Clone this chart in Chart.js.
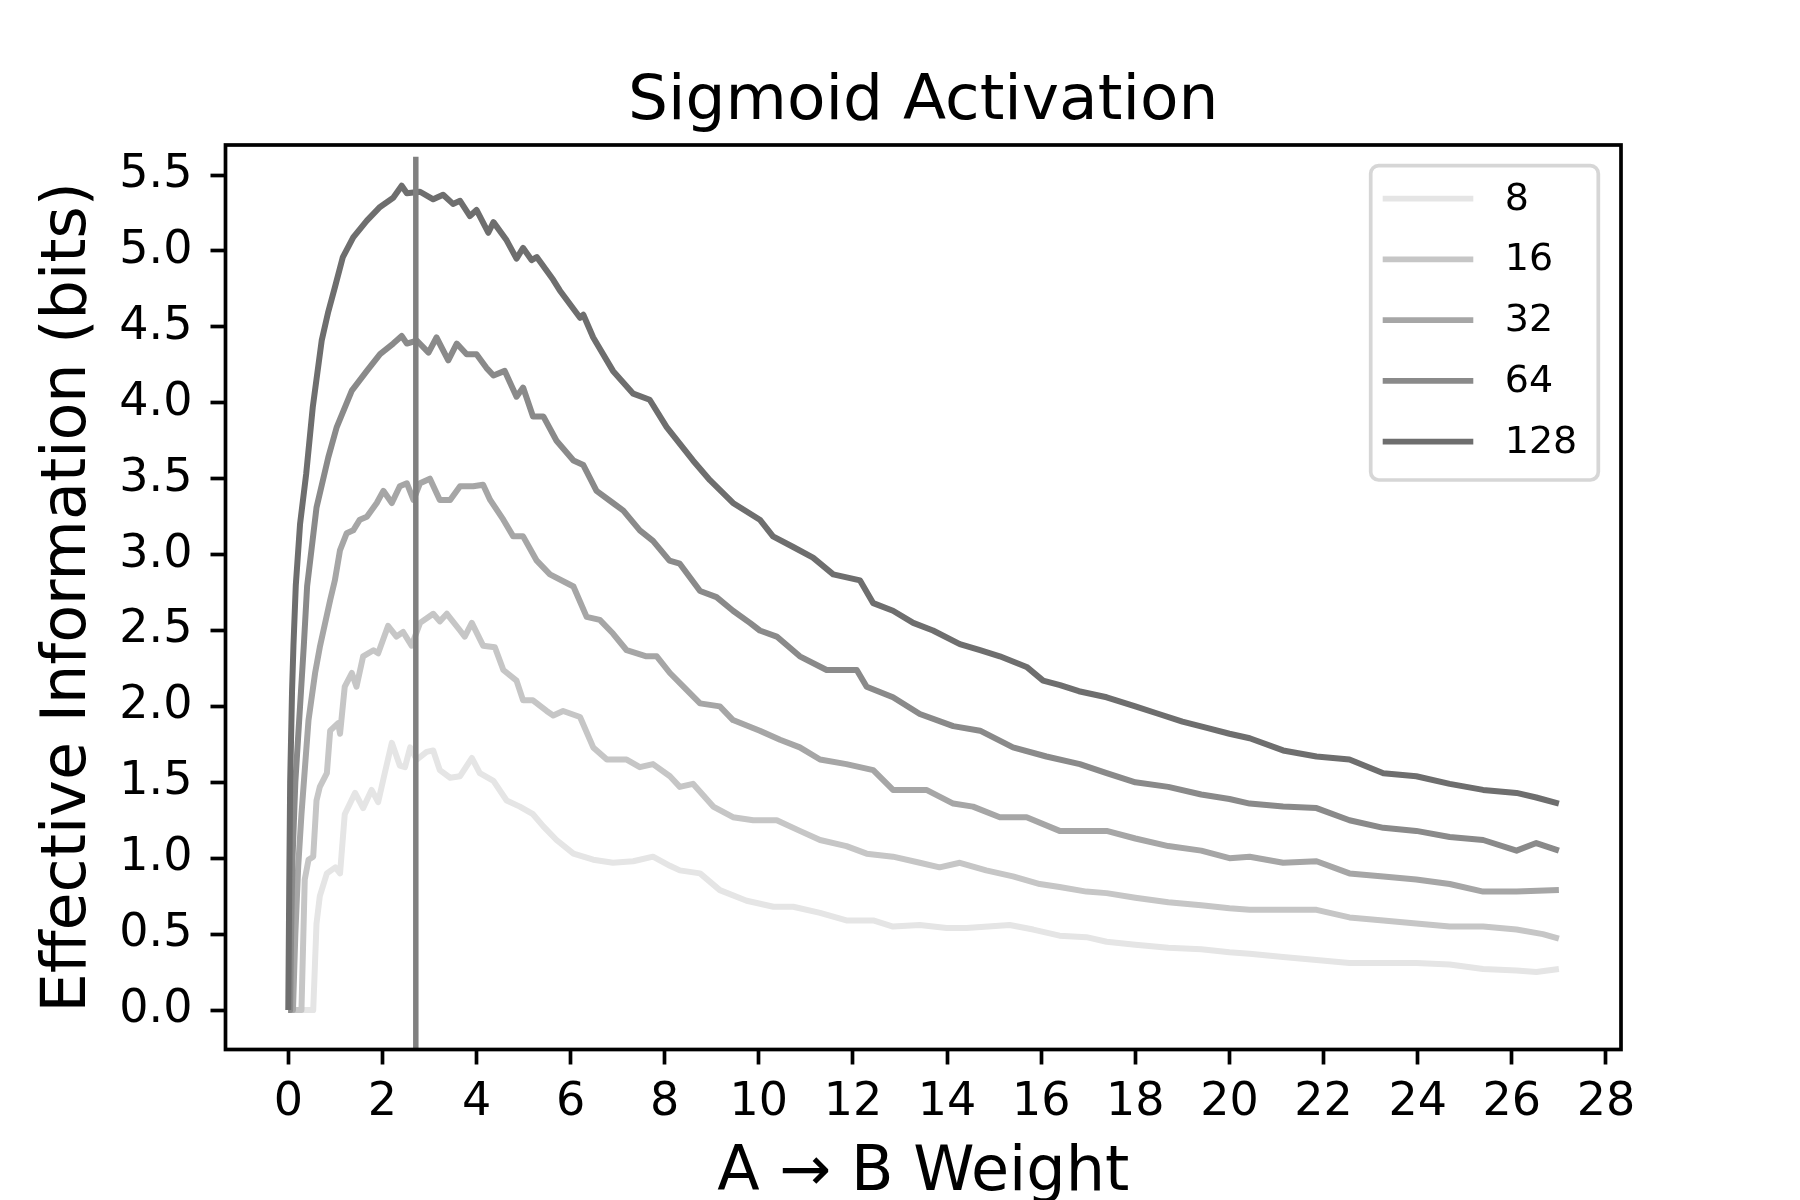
<!DOCTYPE html>
<html>
<head>
<meta charset="utf-8">
<script src="https://cdn.jsdelivr.net/npm/chart.js@4.4.1/dist/chart.umd.min.js"></script>
<style>
html,body{margin:0;padding:0;background:#fff;}
canvas{display:block;}
</style>
</head>
<body>
<canvas id="c" width="1800" height="1200"></canvas>
<script>
// ---- data ----
const seriesLabels = ['8', '16', '32', '64', '128'];
const seriesColors = ['#e5e5e5', '#c6c6c6', '#a6a6a6', '#8a8a8a', '#6e6e6e'];

const x8 = [0,0.53,0.6,0.67,0.82,1.0,1.1,1.2,1.42,1.59,1.77,1.91,2.05,2.2,2.37,2.48,2.59,2.73,2.94,3.08,3.22,3.44,3.65,3.9,4.07,4.36,4.64,4.92,5.2,5.42,5.7,6.06,6.48,6.9,7.33,7.75,8.11,8.32,8.75,9.17,9.74,10.31,10.73,11.3,11.86,12.43,12.85,13.42,13.99,14.41,15.33,15.83,16.39,16.96,17.39,18.0,18.7,19.4,20.0,20.43,21.14,21.85,22.55,23.27,23.97,24.68,25.39,26.1,26.52,27.0];
const y8 = [0,0,0.57,0.75,0.9,0.94,0.9,1.29,1.43,1.33,1.45,1.37,1.56,1.76,1.61,1.6,1.73,1.65,1.7,1.71,1.58,1.53,1.54,1.66,1.56,1.51,1.38,1.34,1.29,1.21,1.12,1.03,0.99,0.97,0.98,1.01,0.95,0.92,0.9,0.79,0.72,0.68,0.68,0.64,0.59,0.59,0.55,0.56,0.54,0.54,0.56,0.53,0.49,0.48,0.45,0.43,0.41,0.4,0.38,0.37,0.35,0.33,0.31,0.31,0.31,0.3,0.27,0.26,0.25,0.27];

const x16 = [0,0.28,0.35,0.43,0.53,0.6,0.67,0.82,0.89,1.06,1.1,1.2,1.35,1.45,1.59,1.81,1.91,2.12,2.3,2.44,2.62,2.8,3.08,3.22,3.37,3.65,3.75,3.9,4.14,4.39,4.57,4.85,4.99,5.2,5.49,5.63,5.84,6.2,6.48,6.77,7.19,7.47,7.75,8.11,8.32,8.6,9.03,9.45,9.88,10.38,10.87,11.3,11.86,12.29,12.85,13.42,13.84,14.27,14.83,15.4,15.97,16.39,16.96,17.39,18.0,18.7,19.4,20.0,20.43,21.14,21.85,22.55,23.27,23.97,24.68,25.39,26.1,26.66,27.0];
const y16 = [0,0,0.86,0.99,1.01,1.38,1.47,1.56,1.84,1.89,1.82,2.13,2.22,2.13,2.33,2.37,2.35,2.53,2.46,2.49,2.4,2.55,2.61,2.56,2.61,2.5,2.46,2.55,2.4,2.39,2.24,2.17,2.04,2.04,1.97,1.94,1.97,1.93,1.73,1.65,1.65,1.6,1.62,1.54,1.47,1.49,1.34,1.27,1.25,1.25,1.18,1.12,1.08,1.03,1.01,0.97,0.94,0.97,0.92,0.88,0.83,0.81,0.78,0.77,0.74,0.71,0.69,0.67,0.66,0.66,0.66,0.61,0.59,0.57,0.55,0.55,0.53,0.5,0.47];

const x32 = [0,0.1,0.15,0.21,0.28,0.43,0.57,0.67,0.89,0.99,1.1,1.24,1.38,1.52,1.67,1.88,2.02,2.2,2.37,2.52,2.66,2.8,3.01,3.22,3.44,3.65,3.93,4.14,4.29,4.57,4.78,4.99,5.28,5.56,6.06,6.34,6.62,6.9,7.19,7.61,7.83,8.11,8.46,8.75,9.17,9.45,10.02,10.45,10.87,11.3,11.86,12.43,12.85,13.56,14.13,14.55,15.12,15.69,16.39,17.39,18.0,18.7,19.4,20.0,20.43,21.14,21.85,22.55,23.27,23.97,24.68,25.39,26.1,27.0];
const y32 = [0,0,0.5,0.94,1.29,1.91,2.22,2.39,2.7,2.83,3.03,3.14,3.16,3.23,3.25,3.34,3.42,3.34,3.45,3.47,3.36,3.47,3.5,3.36,3.36,3.45,3.45,3.46,3.36,3.23,3.12,3.12,2.96,2.87,2.79,2.59,2.57,2.48,2.37,2.33,2.33,2.22,2.11,2.02,2.0,1.91,1.84,1.78,1.73,1.65,1.62,1.58,1.45,1.45,1.36,1.34,1.27,1.27,1.18,1.18,1.13,1.08,1.05,1.0,1.01,0.97,0.98,0.9,0.88,0.86,0.83,0.78,0.78,0.79];

const x64 = [0,0.04,0.06,0.09,0.15,0.25,0.33,0.4,0.6,0.85,1.03,1.35,1.67,1.95,2.23,2.41,2.52,2.73,2.98,3.15,3.4,3.58,3.79,4.0,4.21,4.36,4.6,4.85,4.99,5.2,5.42,5.7,6.06,6.27,6.55,6.9,7.12,7.47,7.75,8.1,8.32,8.75,9.1,9.45,9.81,10.02,10.38,10.87,11.44,12.08,12.29,12.85,13.42,14.13,14.7,15.4,16.11,16.82,17.39,18.0,18.7,19.4,20.0,20.43,21.14,21.85,22.55,23.27,23.97,24.68,25.39,26.1,26.52,27.0];
const y64 = [0,0,0.5,1.0,1.5,2.0,2.4,2.79,3.31,3.64,3.84,4.08,4.21,4.32,4.39,4.44,4.39,4.41,4.33,4.43,4.28,4.39,4.32,4.32,4.23,4.18,4.21,4.04,4.1,3.91,3.91,3.75,3.62,3.59,3.42,3.34,3.29,3.16,3.09,2.96,2.94,2.76,2.72,2.63,2.55,2.5,2.46,2.33,2.24,2.24,2.13,2.06,1.95,1.87,1.84,1.73,1.67,1.62,1.56,1.5,1.47,1.42,1.39,1.36,1.34,1.33,1.25,1.2,1.18,1.14,1.12,1.05,1.1,1.05];

const x128 = [0,0.02,0.04,0.08,0.11,0.16,0.25,0.38,0.52,0.71,0.85,0.99,1.16,1.38,1.67,1.95,2.23,2.41,2.52,2.8,3.08,3.29,3.5,3.65,3.86,4.0,4.25,4.36,4.64,4.85,4.99,5.17,5.28,5.63,5.77,6.2,6.27,6.48,6.9,7.33,7.68,8.04,8.6,8.96,9.45,10.02,10.3,10.73,11.15,11.58,12.15,12.43,12.85,13.28,13.7,14.27,14.7,15.12,15.69,16.04,16.4,16.8,17.39,18.0,18.5,19.0,19.5,20.0,20.43,21.14,21.85,22.55,23.27,23.97,24.68,25.39,26.1,26.52,27.0];
const y128 = [0,0.8,1.5,2.1,2.4,2.8,3.2,3.53,3.97,4.41,4.6,4.76,4.96,5.09,5.2,5.29,5.35,5.43,5.38,5.39,5.34,5.37,5.31,5.33,5.23,5.27,5.12,5.19,5.07,4.95,5.02,4.94,4.96,4.81,4.74,4.56,4.58,4.43,4.21,4.06,4.02,3.84,3.62,3.49,3.34,3.23,3.12,3.05,2.98,2.87,2.83,2.68,2.63,2.55,2.5,2.41,2.37,2.33,2.26,2.17,2.14,2.1,2.06,2.0,1.95,1.9,1.86,1.82,1.79,1.71,1.67,1.65,1.56,1.54,1.49,1.45,1.43,1.4,1.36];

const seriesX = [x8, x16, x32, x64, x128];
const seriesY = [y8, y16, y32, y64, y128];

const vlineX = [2.71, 2.71];
const vlineY = [-0.26, 5.62];

const xTicks = [0,2,4,6,8,10,12,14,16,18,20,22,24,26,28];
const yTicks = [0,0.5,1.0,1.5,2.0,2.5,3.0,3.5,4.0,4.5,5.0,5.5];

const titleText = 'Sigmoid Activation';
const xLabel = 'A \u2192 B Weight';
const yLabel = 'Effective Information (bits)';

// ---- build chart ----
const FONT = "'DejaVu Sans', 'Liberation Sans', sans-serif";
Chart.defaults.font.family = FONT;
Chart.defaults.color = '#000';

function pts(xs, ys) {
  const n = Math.min(xs.length, ys.length);
  const out = [];
  for (let i = 0; i < n; i++) out.push({x: xs[i], y: ys[i]});
  return out;
}

const datasets = seriesLabels.map((lab, i) => ({
  label: lab,
  data: pts(seriesX[i], seriesY[i]),
  borderColor: seriesColors[i],
  backgroundColor: seriesColors[i],
  borderWidth: 6,
  pointRadius: 0,
  tension: 0,
  fill: false,
  borderJoinStyle: 'round',
  order: seriesLabels.length - i
}));
datasets.push({
  label: 'vline',
  data: pts(vlineX, vlineY),
  borderColor: '#808080',
  borderWidth: 5.5,
  pointRadius: 0,
  fill: false,
  order: 0
});

const framePlugin = {
  id: 'frameAndLegend',
  afterDatasetsDraw(chart) {
    const {ctx, chartArea: a} = chart;
    ctx.save();
    // frame
    ctx.strokeStyle = '#000';
    ctx.lineWidth = 3.7;
    ctx.strokeRect(a.left, a.top, a.right - a.left, a.bottom - a.top);

    // legend box (inside top-right)
    const bx1 = a.right - 22.7, by0 = a.top + 20.7;
    const bx0 = bx1 - 227.6, by1 = by0 + 314.3;
    const r = 8;
    ctx.beginPath();
    ctx.moveTo(bx0 + r, by0);
    ctx.lineTo(bx1 - r, by0);
    ctx.arcTo(bx1, by0, bx1, by0 + r, r);
    ctx.lineTo(bx1, by1 - r);
    ctx.arcTo(bx1, by1, bx1 - r, by1, r);
    ctx.lineTo(bx0 + r, by1);
    ctx.arcTo(bx0, by1, bx0, by1 - r, r);
    ctx.lineTo(bx0, by0 + r);
    ctx.arcTo(bx0, by0, bx0 + r, by0, r);
    ctx.closePath();
    ctx.fillStyle = 'rgba(255,255,255,0.8)';
    ctx.fill();
    ctx.strokeStyle = 'rgba(204,204,204,0.8)';
    ctx.lineWidth = 3.7;
    ctx.stroke();

    ctx.font = '38px ' + FONT;
    ctx.textBaseline = 'middle';
    ctx.textAlign = 'left';
    for (let i = 0; i < seriesLabels.length; i++) {
      const yy = by0 + 33 + i * 60.75;
      ctx.strokeStyle = seriesColors[i];
      ctx.lineWidth = 5.7;
      ctx.beginPath();
      ctx.moveTo(bx0 + 12, yy);
      ctx.lineTo(bx0 + 102.6, yy);
      ctx.stroke();
      ctx.fillStyle = '#000';
      ctx.fillText(seriesLabels[i], bx0 + 134, yy + 1);
    }
    ctx.restore();
  }
};

new Chart(document.getElementById('c'), {
  type: 'line',
  data: { datasets },
  plugins: [framePlugin],
  options: {
    responsive: false,
    animation: false,
    devicePixelRatio: 1,
    layout: { padding: { left: 0, right: 179, top: 0, bottom: 0 } },
    plugins: {
      legend: { display: false },
      tooltip: { enabled: false },
      title: {
        display: true,
        fullSize: false,
        text: titleText,
        color: '#000',
        font: { size: 63, weight: 'normal', family: FONT, lineHeight: 1.2 },
        padding: { top: 64.5, bottom: 4.9 }
      }
    },
    scales: {
      x: {
        type: 'linear',
        min: -1.334,
        max: 28.32,
        afterBuildTicks: (s) => { s.ticks = xTicks.map(v => ({value: v})); },
        afterFit: (s) => { s.height = 150.5; },
        ticks: {
          autoSkip: false, maxRotation: 0, padding: 11,
          color: '#000',
          font: { size: 46, family: FONT, lineHeight: 1.2 },
          callback: (v) => String(v)
        },
        grid: { display: true, drawOnChartArea: false, drawTicks: true, tickLength: 15, tickWidth: 3.7, tickColor: '#000' },
        border: { display: false },
        title: {
          display: true, text: xLabel, color: '#000',
          font: { size: 62, family: FONT, lineHeight: 0.84 },
          padding: { top: 0, bottom: 0 }
        }
      },
      y: {
        type: 'linear',
        min: -0.26,
        max: 5.698,
        afterBuildTicks: (s) => { s.ticks = yTicks.map(v => ({value: v})); },
        afterFit: (s) => { s.width = 225.5; },
        ticks: {
          padding: 18,
          color: '#000',
          font: { size: 46, family: FONT, lineHeight: 1.2 },
          callback: (v) => Number(v).toFixed(1)
        },
        grid: { display: true, drawOnChartArea: false, drawTicks: true, tickLength: 15, tickWidth: 3.7, tickColor: '#000' },
        border: { display: false },
        title: {
          display: true, text: yLabel, color: '#000',
          font: { size: 62, family: FONT, lineHeight: 1 },
          padding: { top: 37.5, bottom: 0 }
        }
      }
    }
  }
});
</script>
</body>
</html>
